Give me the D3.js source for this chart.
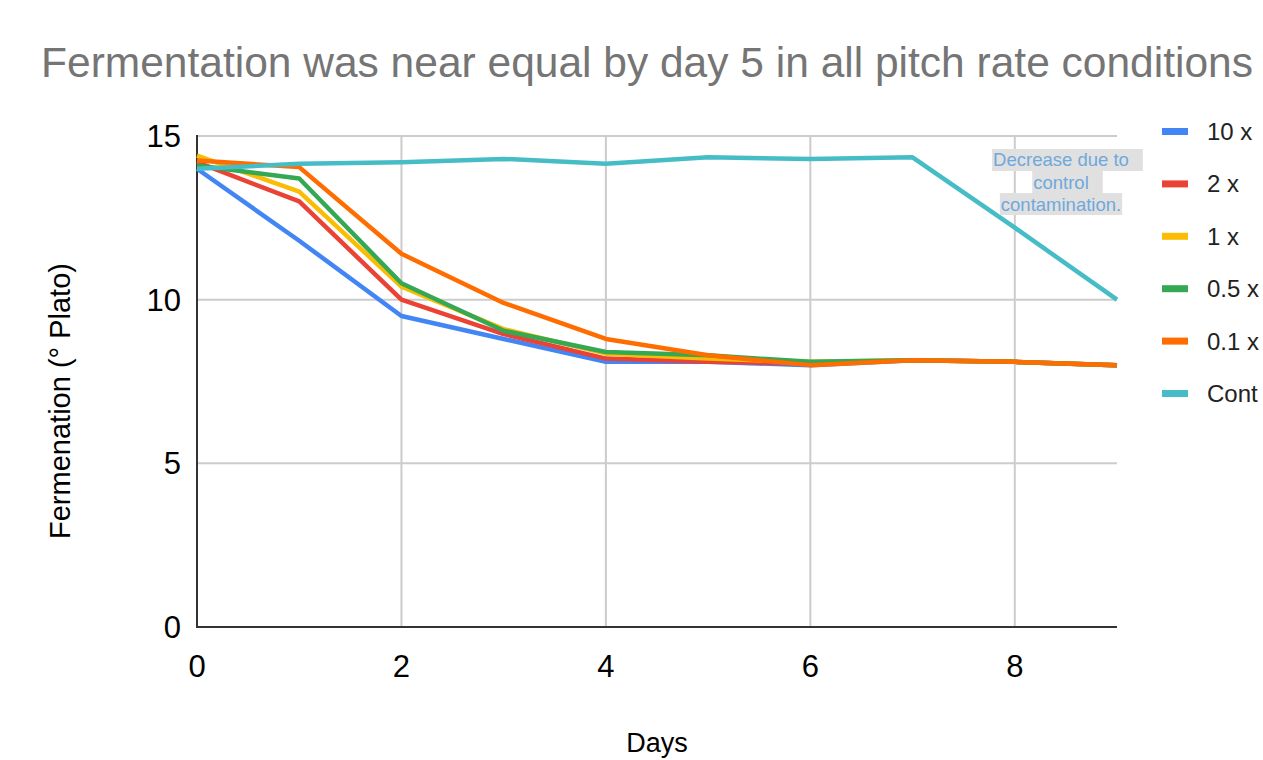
<!DOCTYPE html>
<html>
<head>
<meta charset="utf-8">
<script src="https://cdn.jsdelivr.net/npm/d3@7"></script>
<style>
  body { margin: 0; background: #fff; }
  svg { font-family: "Liberation Sans", Arial, sans-serif; }
</style>
</head>
<body>
<svg width="1263" height="760"></svg>
<script>
const days = [0, 1, 2, 3, 4, 5, 6, 7, 8, 9];
const seriesNames = ['10 x', '2 x', '1 x', '0.5 x', '0.1 x', 'Cont'];
const colors = ['#4285f4', '#ea4335', '#fbbc04', '#34a853', '#ff6d01', '#46bdc6'];

const tenX   = [14.0, 11.8, 9.5, 8.8, 8.1, 8.1, 8.0, 8.15, 8.1, 8.0];
const twoX   = [14.2, 13.0, 10.0, 8.95, 8.2, 8.1, 8.05, 8.15, 8.1, 8.0];
const oneX   = [14.4, 13.3, 10.4, 9.1, 8.35, 8.2, 8.1, 8.15, 8.1, 8.0];
const halfX  = [14.1, 13.7, 10.5, 9.05, 8.4, 8.3, 8.1, 8.15, 8.1, 8.0];
const tenthX = [14.25, 14.05, 11.4, 9.9, 8.8, 8.3, 8.0, 8.15, 8.1, 8.0];
const cont   = [14.0, 14.15, 14.2, 14.3, 14.15, 14.35, 14.3, 14.35, 12.2, 10.0];

const xTicks = [0, 2, 4, 6, 8];
const yTicks = [0, 5, 10, 15];
const noteLines = ['Decrease due to', 'control', 'contamination.'];

const allSeries = [tenX, twoX, oneX, halfX, tenthX, cont];

const svg = d3.select('svg');
const x = d3.scaleLinear().domain([0, 9]).range([197, 1117]);
const y = d3.scaleLinear().domain([0, 15]).range([627, 136]);

// title
svg.append('text')
    .attr('x', 647).attr('y', 77)
    .attr('text-anchor', 'middle')
    .attr('font-size', 42.5)
    .attr('fill', '#757575')
    .text('Fermentation was near equal by day 5 in all pitch rate conditions');

// grid
svg.append('g')
    .selectAll('line')
    .data(yTicks)
    .enter().append('line')
        .attr('x1', x(0)).attr('x2', x(9))
        .attr('y1', d => y(d)).attr('y2', d => y(d))
        .attr('stroke', '#cccccc').attr('stroke-width', 2);
svg.append('g')
    .selectAll('line')
    .data(xTicks)
    .enter().append('line')
        .attr('x1', d => x(d)).attr('x2', d => x(d))
        .attr('y1', y(0)).attr('y2', y(15))
        .attr('stroke', '#cccccc').attr('stroke-width', 2);

// axis lines
svg.append('line')
    .attr('x1', x(0)).attr('x2', x(0))
    .attr('y1', y(0) + 1).attr('y2', y(15) - 1)
    .attr('stroke', '#333').attr('stroke-width', 2);
svg.append('line')
    .attr('x1', x(0) - 1).attr('x2', x(9))
    .attr('y1', y(0)).attr('y2', y(0))
    .attr('stroke', '#333').attr('stroke-width', 2);

// tick labels
svg.append('g')
    .selectAll('text')
    .data(yTicks)
    .enter().append('text')
        .attr('x', 181).attr('y', d => y(d) + 11)
        .attr('text-anchor', 'end')
        .attr('font-size', 31)
        .attr('fill', '#000')
        .text(d => d);
svg.append('g')
    .selectAll('text')
    .data(xTicks)
    .enter().append('text')
        .attr('x', d => x(d)).attr('y', 677)
        .attr('text-anchor', 'middle')
        .attr('font-size', 31)
        .attr('fill', '#000')
        .text(d => d);

// axis titles
svg.append('text')
    .attr('transform', 'translate(70,401) rotate(-90)')
    .attr('text-anchor', 'middle')
    .attr('font-size', 29)
    .attr('fill', '#000')
    .text('Fermenation (° Plato)');
svg.append('text')
    .attr('x', 657).attr('y', 752)
    .attr('text-anchor', 'middle')
    .attr('font-size', 27)
    .attr('fill', '#000')
    .text('Days');

// lines
const line = d3.line()
    .x((d, i) => x(days[i]))
    .y(d => y(d));

svg.append('g')
    .selectAll('path')
    .data(allSeries)
    .enter().append('path')
        .attr('d', line)
        .attr('fill', 'none')
        .attr('stroke', (d, i) => colors[i])
        .attr('stroke-width', 4.5)
        .attr('stroke-linejoin', 'round');

// annotation
const note = svg.append('g');
noteLines.forEach((t, i) => {
    const txt = note.append('text')
        .attr('x', 1061).attr('y', 166 + i * 22.5)
        .attr('text-anchor', 'middle')
        .attr('font-size', 18.5)
        .attr('fill', '#6fa8dc')
        .text(t);
    const bb = txt.node().getBBox();
    const padR = i < noteLines.length - 1 ? 14 : 1;
    note.insert('rect', 'text')
        .attr('x', bb.x - 1).attr('y', 149 + i * 22)
        .attr('width', bb.width + 1 + padR).attr('height', 22)
        .attr('fill', '#e0e0e0');
});

// legend
const legend = svg.append('g')
    .selectAll('g')
    .data(seriesNames)
    .enter().append('g')
        .attr('transform', (d, i) => `translate(1162,${131 + i * 52.4})`);
legend.append('rect')
    .attr('x', 0).attr('y', -3)
    .attr('width', 26).attr('height', 7)
    .attr('fill', (d, i) => colors[i]);
legend.append('text')
    .attr('x', 45).attr('y', 9)
    .attr('font-size', 24)
    .attr('fill', '#222')
    .text(d => d);
</script>
</body>
</html>
